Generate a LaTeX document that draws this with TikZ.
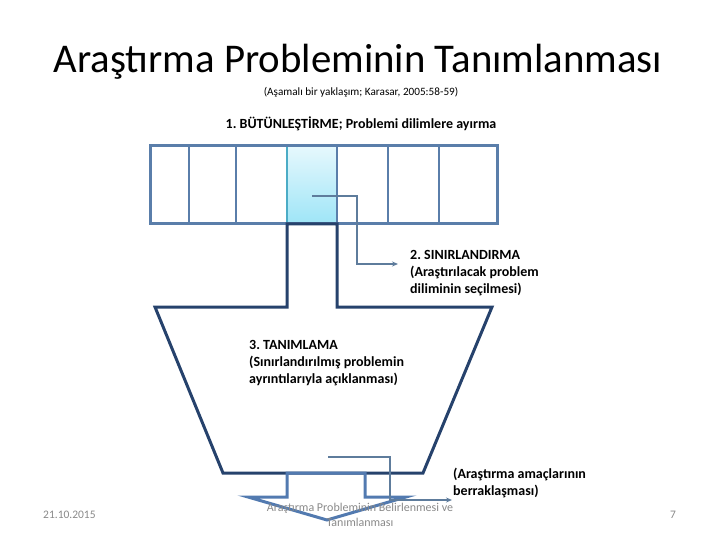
\documentclass[tikz,border=0pt]{standalone}
\usepackage{fontspec}
\setmainfont{Carlito}
\usetikzlibrary{arrows.meta}
\definecolor{barblue}{RGB}{90,126,170}
\definecolor{cellteal}{RGB}{75,172,198}
\definecolor{navyline}{RGB}{38,66,108}
\definecolor{arrowblue}{RGB}{82,122,176}
\definecolor{connblue}{RGB}{94,124,156}
\definecolor{cyantop}{RGB}{230,248,253}
\definecolor{cyanbot}{RGB}{158,229,247}
\definecolor{footgrey}{RGB}{137,137,137}
\frenchspacing
\begin{document}
\begin{tikzpicture}[x=1pt,y=-1pt,
  cellbox/.style={draw=barblue,line width=1.2pt,minimum height=78pt,inner sep=0pt,outer sep=0pt},
  steptext/.style={font=\fontsize{14}{17}\selectfont\bfseries,align=left,anchor=north west,inner sep=0pt},
  conn/.style={draw=connblue,line width=2pt,line join=miter,-{Stealth[length=6pt,width=5pt]}},
  footer/.style={font=\fontsize{11.5}{14}\selectfont,text=footgrey,inner sep=0pt}]
\useasboundingbox (0,0) rectangle (720,540);
% title
\node[font=\fontsize{40.8}{48}\selectfont,inner sep=0pt] (title) at (358,62) {Araştırma Probleminin Tanımlanması};
\node[font=\fontsize{11.2}{13}\selectfont,inner sep=0pt] (sub) at (361,92) {(Aşamalı bir yaklaşım; Karasar, 2005:58-59)};
\node[font=\fontsize{14}{17}\selectfont\bfseries,inner sep=0pt] (lab1) at (361,124) {1. BÜTÜNLEŞTİRME; Problemi dilimlere ayırma};
% bar of slices
\node[cellbox,minimum width=39pt] (c1) at (169.5,185) {};
\node[cellbox,minimum width=47pt] (c2) at (212.5,185) {};
\node[cellbox,minimum width=51pt] (c3) at (261.5,185) {};
\node[cellbox,minimum width=50pt,draw=cellteal,top color=cyantop,bottom color=cyanbot] (c4) at (312,185) {};
\node[cellbox,minimum width=51pt] (c5) at (362.5,185) {};
\node[cellbox,minimum width=51pt] (c6) at (413.5,185) {};
\node[cellbox,minimum width=58pt] (c7) at (468,185) {};
\draw[barblue,line width=3pt] (c1.north west) rectangle (c7.south east);
% funnel
\draw[navyline,line width=3pt,line join=miter] (155,307) -- (287,307) -- (c4.south west) -- (c4.south east) -- (337,307) -- (492,307) -- (423,473) -- (223,473) -- cycle;
% block arrow
\draw[arrowblue,line width=3pt,line join=miter] (287,473) -- (287,497) -- (248,497) -- (327,520) -- (406,497) -- (365,497) -- (365,473) -- cycle;
% labels
\node[steptext] (lab2) at (410,250) {2. SINIRLANDIRMA\\(Araştırılacak problem\\diliminin seçilmesi)};
\node[steptext] (lab3) at (249,340) {3. TANIMLAMA\\(Sınırlandırılmış problemin\\ayrıntılarıyla açıklanması)};
\node[steptext] (lab4) at (453,468) {(Araştırma amaçlarının\\berraklaşması)};
% connectors
\coordinate (s1) at (312,196);
\coordinate (e1) at (398,264);
\draw[conn] (s1) -- (357,196) |- (e1);
\coordinate (s2) at (328,457);
\coordinate (e2) at (452,500);
\draw[conn] (s2) -- (390,457) |- (e2);
% footer
\node[footer,anchor=west] (date) at (43,515) {21.10.2015};
\node[footer] (page) at (673,515) {7};
\node[font=\fontsize{12}{15}\selectfont,text=footgrey,align=center,inner sep=0pt] (foot) at (360,514.5) {Araştırma Probleminin Belirlenmesi ve\\Tanımlanması};
\end{tikzpicture}
\end{document}
